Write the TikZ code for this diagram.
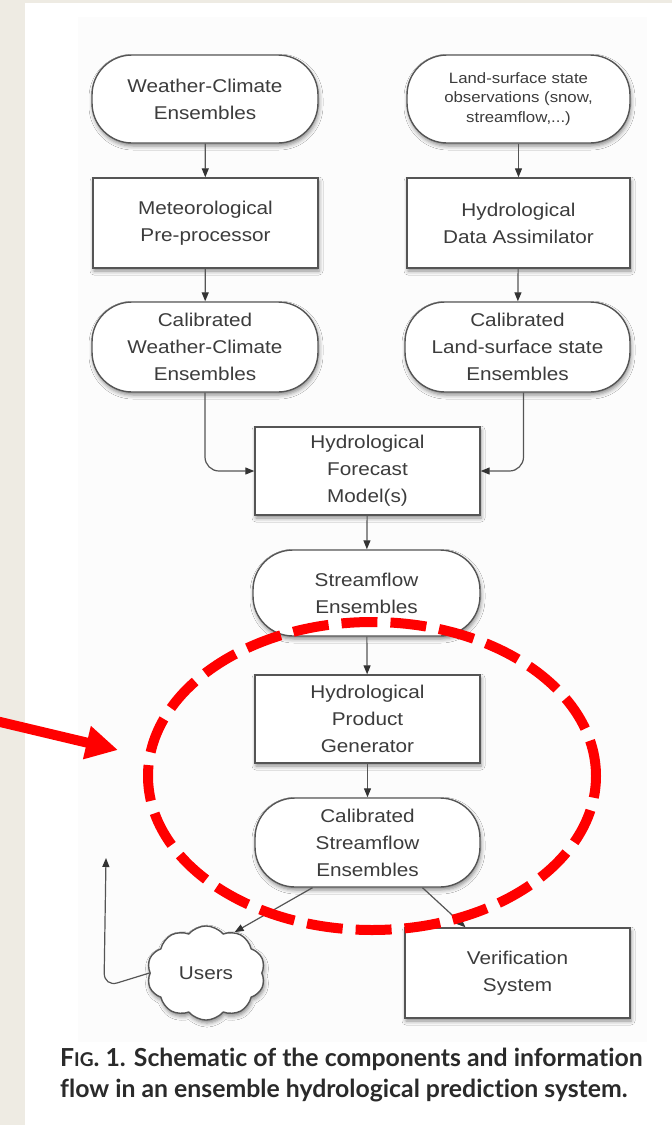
\documentclass[tikz,border=0pt]{standalone}
\usepackage{fontspec}
\usetikzlibrary{arrows.meta,shapes.symbols,shadows.blur}
\newfontfamily\boxfont[FakeStretch=1.12]{Liberation Sans}
\newfontfamily\capfont[Ligatures=NoCommon]{Lato}
\definecolor{pagebeige}{HTML}{EEEBE3}
\definecolor{panelgray}{HTML}{FCFCFC}
\definecolor{linegray}{HTML}{555555}
\definecolor{textgray}{HTML}{3C3C3C}
\definecolor{tipgray}{HTML}{333333}
\definecolor{capblack}{HTML}{2A2A2A}
\definecolor{markred}{HTML}{FF0000}
\tikzset{
  box/.style={draw=linegray, line width=1.4pt, fill=white, align=center,
    minimum width=225pt, minimum height=89pt, inner sep=3pt,
    text=textgray, font=\boxfont\fontsize{18.5pt}{27pt}\selectfont,
    blur shadow={shadow xshift=1pt, shadow yshift=-3pt,
      shadow blur radius=4pt, shadow opacity=45}},
  stadium/.style={box, rounded corners=40pt},
  smalltext/.style={font=\boxfont\fontsize{15pt}{19.5pt}\selectfont},
  flow/.style={draw=linegray, line width=1.2pt,
    -{Triangle[length=9pt,width=7pt,color=tipgray]}},
  marker/.style={draw=markred, line width=10pt},
}
\begin{document}
\begin{tikzpicture}[x=1pt,y=-1pt]
\useasboundingbox (0,0) rectangle (672,1125);
% page and figure panel
\fill[pagebeige] (0,0) rectangle (672,1125);
\fill[white] (25,3) rectangle (672,1125);
\fill[panelgray] (78,17) rectangle (647,1042);

% nodes of the prediction chain
\node[stadium, minimum width=226pt, minimum height=88pt] (wce) at (205,99) {Weather-Climate\\Ensembles};
\node[stadium, smalltext, minimum width=223pt, minimum height=88pt] (lso) at (518.5,99) {Land-surface state\\observations (snow,\\streamflow,...)};
\node[box, minimum width=225pt, minimum height=90pt] (mpp) at (205.5,223) {Meteorological\\Pre-processor};
\node[box, minimum width=223pt, minimum height=90pt] (hda) at (518.5,223) {Hydrological\\Data Assimilator};
\node[stadium, minimum width=226pt, minimum height=90pt] (cwc) at (205,347) {Calibrated\\Weather-Climate\\Ensembles};
\node[stadium, minimum width=225pt, minimum height=90pt] (cls) at (517.5,347) {Calibrated\\Land-surface state\\Ensembles};
\node[box, minimum height=88pt] (hfm) at (367.5,471) {Hydrological\\Forecast\\Model(s)};
\node[stadium, minimum width=227pt, minimum height=86pt] (sfe) at (366.5,593) {Streamflow\\Ensembles};
\node[box, minimum height=88pt] (hpg) at (367.5,719) {Hydrological\\Product\\Generator};
\node[stadium, minimum height=89pt] (cse) at (367.5,842.5) {Calibrated\\Streamflow\\Ensembles};
\node[cloud, cloud puffs=10, cloud puff arc=100, draw=linegray, line width=1.4pt,
  fill=white, minimum width=118pt, minimum height=85pt, text=textgray,
  font=\boxfont\fontsize{18.5pt}{27pt}\selectfont,
  blur shadow={shadow xshift=1pt, shadow yshift=-3pt, shadow blur radius=4pt, shadow opacity=45}]
  (usr) at (206,973) {Users};
\node[box, minimum height=90pt] (ver) at (517.5,973) {Verification\\System};

% connectors
\draw[flow] (wce) -- (mpp);
\draw[flow] (lso) -- (hda);
\draw[flow] (mpp) -- (cwc);
\draw[flow] (hda) -- (cls);
\draw[flow, rounded corners=14pt] (cwc.south) |- (hfm.west);
\draw[flow, rounded corners=14pt] ([xshift=6pt]cls.south) |- (hfm.east);
\draw[flow] (hfm) -- (sfe);
\draw[flow] (sfe) -- (hpg);
\draw[flow] (hpg) -- (cse);
\draw[flow] ([xshift=-55pt]cse.south) -- (usr.55);
\draw[flow] ([xshift=55pt]cse.south) -- ([xshift=-52pt]ver.north);
\coordinate (fb) at (106,858);
\draw[flow, rounded corners=14pt] (usr.west) -- (104,987) -- (fb);

% red highlight
\draw[marker, dash pattern=on 36pt off 13pt] (372,776) ellipse [x radius=224pt, y radius=154pt];
\coordinate (rtail) at (-4,721);
\coordinate (rtip) at (118,750);
\draw[marker, -{Triangle[length=32pt,width=32pt]}] (rtail) -- (rtip);

% caption
\node[anchor=north west, align=left, inner sep=0pt, text=capblack,
  font=\capfont\bfseries\fontsize{24.8pt}{31pt}\selectfont] (cap) at (60,1048)
  {F{\fontsize{19pt}{31pt}\selectfont IG}. 1. Schematic of the components and information\\
   flow in an ensemble hydrological prediction system.};
\end{tikzpicture}
\end{document}
